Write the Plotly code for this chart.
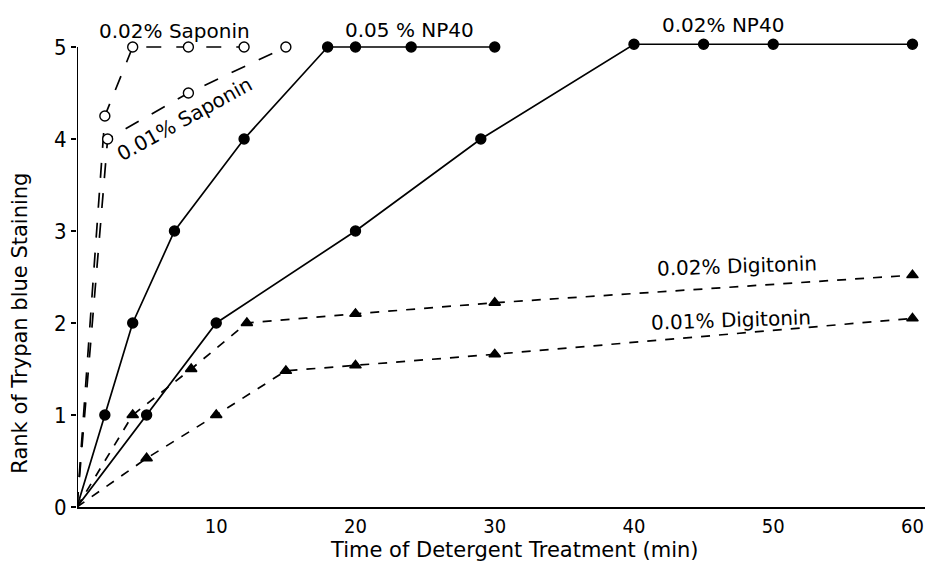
import plotly.graph_objects as go

# Data
sap02_x = [0, 2, 4, 8, 12]
sap02_y = [0, 4.25, 5, 5, 5]
sap01_x = [0, 2.2, 8, 15]
sap01_y = [0, 4.0, 4.5, 5]
np05_x = [0, 2, 4, 7, 12, 18, 20, 24, 30]
np05_y = [0, 1, 2, 3, 4, 5, 5, 5, 5]
np02_x = [0, 5, 10, 20, 29, 40, 45, 50, 60]
np02_y = [0, 1, 2, 3, 4, 5.03, 5.03, 5.03, 5.03]
dig02_x = [0, 4, 8.2, 12.2, 20, 30, 60]
dig02_y = [0, 1, 1.5, 2, 2.1, 2.22, 2.52]
dig01_x = [0, 5, 10, 15, 20, 30, 60]
dig01_y = [0, 0.53, 1, 1.48, 1.54, 1.66, 2.05]

x_ticks = [0, 10, 20, 30, 40, 50, 60]
y_ticks = [0, 1, 2, 3, 4, 5]

FONT = "DejaVu Sans"
NARROW = "Liberation Sans Narrow, DejaVu Sans Condensed, Liberation Sans"
fig = go.Figure()


def add(xs, ys, symbol, dash, filled=True, width=1.7, msize=10):
    sizes = [0] + [msize] * (len(xs) - 1)
    fig.add_trace(go.Scatter(
        x=xs, y=ys, mode="lines+markers",
        line=dict(color="#000000", width=width, dash=dash),
        marker=dict(symbol=symbol, size=sizes, opacity=1,
                    color="#000000" if filled else "#ffffff",
                    line=dict(color="#000000", width=1.4)),
        cliponaxis=False, showlegend=False))


add(sap02_x, sap02_y, "circle", "longdash", filled=False)
add(sap01_x, sap01_y, "circle", "longdash", filled=False)
add(np05_x, np05_y, "circle", "solid")
add(np02_x, np02_y, "circle", "solid")
add(dig02_x, dig02_y, "triangle-up", "dash")
add(dig01_x, dig01_y, "triangle-up", "dash")

# y axis line only up to 5
fig.add_shape(type="line", x0=0, x1=0, y0=0, y1=5, xref="x", yref="y",
              line=dict(color="black", width=2))

labels = [
    ("0.02% Saponin", 7.0, 5.17, 0),
    ("0.01% Saponin", 7.7, 4.22, -29),
    ("0.05 % NP40", 23.9, 5.18, 0),
    ("0.02% NP40", 46.4, 5.24, 0),
    ("0.02% Digitonin", 47.4, 2.62, -2),
    ("0.01% Digitonin", 47.0, 2.03, -2),
]
for txt, x, y, ang in labels:
    fig.add_annotation(x=x, y=y, text=txt, showarrow=False, textangle=ang,
                       font=dict(family=FONT, size=20, color="black"))

# axis titles
fig.add_annotation(text="Time of Detergent Treatment (min)", xref="paper",
                   yref="paper", x=0.515, y=-0.087, showarrow=False,
                   xanchor="center", yanchor="middle",
                   font=dict(family=FONT, size=21, color="black"))
fig.add_annotation(text="Rank of Trypan blue Staining", xref="paper",
                   yref="paper", x=-0.0665, y=0.37, showarrow=False,
                   textangle=-90, xanchor="center", yanchor="middle",
                   font=dict(family=FONT, size=21, color="black"))

# the page body adds an 8 px offset, so the figure is 8 px smaller
fig.update_layout(
    width=933, height=558,
    margin=dict(l=69, r=16, t=2, b=59),
    plot_bgcolor="white", paper_bgcolor="white",
    font=dict(family=FONT, size=16, color="black"),
)
fig.update_xaxes(range=[0, 60.9], tickvals=x_ticks, automargin=False,
                 ticktext=["", "10", "20", "30", "40", "50", "60"],
                 tickfont=dict(family=NARROW, size=20),
                 showgrid=False, zeroline=False, showline=True,
                 linecolor="black", linewidth=2, ticks="")
fig.update_yaxes(range=[0, 5.402], tickvals=y_ticks, automargin=False,
                 tickfont=dict(family=NARROW, size=22),
                 showgrid=False, zeroline=False, showline=False,
                 ticks="outside", ticklen=5, tickcolor="black", tickwidth=2)

fig.write_html("out.html")
